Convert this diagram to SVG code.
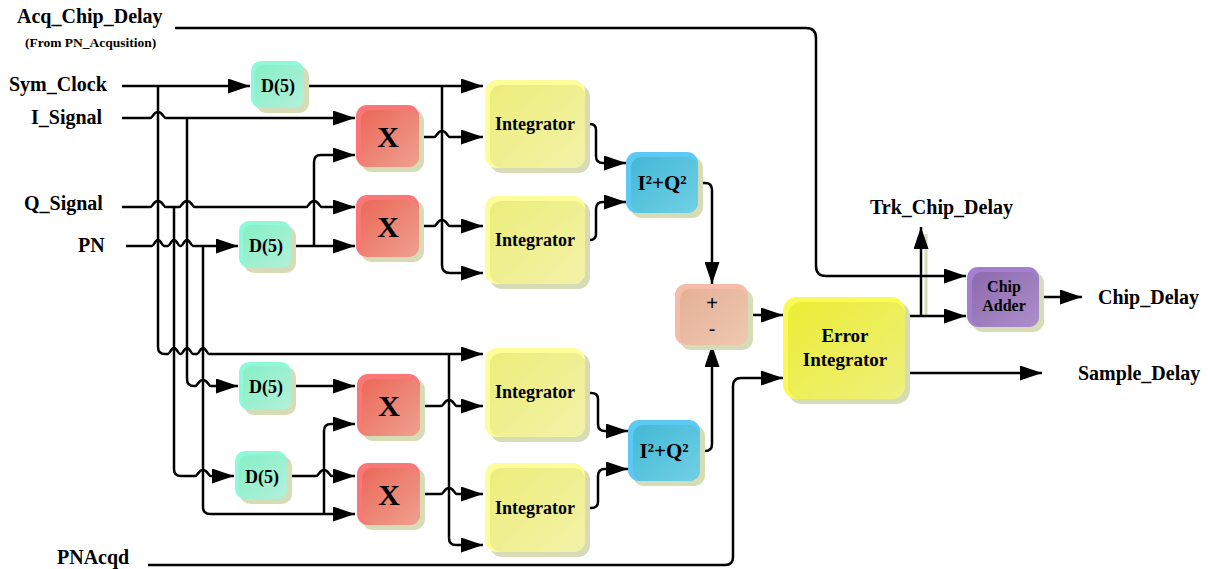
<svg xmlns="http://www.w3.org/2000/svg" width="1208" height="569" viewBox="0 0 1208 569">
<defs>
<style>
.sh{fill:#d5dcb6}
.c{fill:none;stroke:#000;stroke-width:2.5}
.a{marker-end:url(#ah)}
.lbl{font-family:"Liberation Serif","Times New Roman",serif;font-weight:bold;font-size:20px;fill:#000}
.sm{font-size:13.5px}
.nt{font-family:"Liberation Serif","Times New Roman",serif;font-weight:bold;fill:#000;text-anchor:middle}
.pm{font-family:"Liberation Sans",Arial,sans-serif;font-size:20px;fill:#000;text-anchor:middle}
</style>
<marker id="ah" markerWidth="22" markerHeight="15" refX="22" refY="7.5" orient="auto" markerUnits="userSpaceOnUse"><path d="M0,0 L22,7.5 L0,15 Z" fill="#000"/></marker>
<linearGradient id="gX" x1="0" y1="0" x2="1" y2="1"><stop offset="0" stop-color="#ea6858"/><stop offset="1" stop-color="#f0a090"/></linearGradient>
<linearGradient id="gI" x1="0" y1="0" x2="1" y2="1"><stop offset="0" stop-color="#eded7c"/><stop offset="1" stop-color="#f2f2a8"/></linearGradient>
<linearGradient id="gQ" x1="0" y1="0" x2="1" y2="1"><stop offset="0" stop-color="#42b8d6"/><stop offset="1" stop-color="#72d0e4"/></linearGradient>
<linearGradient id="gD" x1="0" y1="0" x2="1" y2="1"><stop offset="0" stop-color="#86efc6"/><stop offset="1" stop-color="#b2f0da"/></linearGradient>
<linearGradient id="gC" x1="0" y1="0" x2="1" y2="1"><stop offset="0" stop-color="#8c6aac"/><stop offset="1" stop-color="#ae8ecc"/></linearGradient>
<linearGradient id="gP" x1="0" y1="0" x2="1" y2="1"><stop offset="0" stop-color="#e4b096"/><stop offset="1" stop-color="#eec8b0"/></linearGradient>
<linearGradient id="gE" x1="0" y1="0" x2="1" y2="1"><stop offset="0" stop-color="#ecec36"/><stop offset="1" stop-color="#eef07c"/></linearGradient>
</defs>
<rect width="1208" height="569" fill="#fff"/>

<g id="labels">
<text class="lbl" x="17" y="23">Acq_Chip_Delay</text>
<text class="lbl sm" x="25" y="47">(From PN_Acqusition)</text>
<text class="lbl" x="9" y="91">Sym_Clock</text>
<text class="lbl" x="31" y="124">I_Signal</text>
<text class="lbl" x="24" y="210">Q_Signal</text>
<text class="lbl" x="78" y="252">PN</text>
<text class="lbl" x="57" y="564">PNAcqd</text>
<text class="lbl" x="870" y="214">Trk_Chip_Delay</text>
<text class="lbl" x="1098" y="304">Chip_Delay</text>
<text class="lbl" x="1078" y="380">Sample_Delay</text>
</g>

<g id="connectors">
<line x1="926" y1="234" x2="926" y2="316" stroke="#d5dcb6" stroke-width="3"/>
<path class="c a" d="M175,28 H806 Q816,28 816,38 V266 Q816,276 826,276 H966"/>
<path class="c a" d="M122,86 H250"/>
<path class="c a" d="M158,86 V347 Q158,354 165,354 H168 c2,0 3,-6 6,-6 c3,0 4,6 6,6 H181 c2,0 3,-6 6,-6 c3,0 4,6 6,6 H197 c2,0 3,-6 6,-6 c3,0 4,6 6,6 H483"/>
<path class="c a" d="M305,86 H483"/>
<path class="c a" d="M442,86 V265 Q442,273 450,273 H483"/>
<path class="c a" d="M122,118 H150 c2.5,0 3.5,-6 8,-6 c4.5,0 5.5,6 8,6 H355"/>
<path class="c a" d="M187,118 V379 Q187,386 194,386 H195 c2.5,0 3.5,-6 8,-6 c4.5,0 5.5,6 8,6 H238"/>
<path class="c a" d="M122,207 H150 c2.5,0 3.5,-6 8,-6 c4.5,0 5.5,6 8,6 H179 c2.5,0 3.5,-6 8,-6 c4.5,0 5.5,6 8,6 H306 c2.5,0 3.5,-6 8,-6 c4.5,0 5.5,6 8,6 H355"/>
<path class="c a" d="M174,207 V469 Q174,476 181,476 H195 c2.5,0 3.5,-6 8,-6 c4.5,0 5.5,6 8,6 H234"/>
<path class="c a" d="M126,246 H152 c2,0 3,-6 6,-6 c3,0 4,6 6,6 H168 c2,0 3,-6 6,-6 c3,0 4,6 6,6 H181 c2,0 3,-6 6,-6 c3,0 4,6 6,6 H238"/>
<path class="c a" d="M203,246 V507 Q203,514 210,514 H355"/>
<path class="c a" d="M291,246 H355"/>
<path class="c a" d="M314,246 V162 Q314,155 321,155 H355"/>
<path class="c a" d="M291,386 H355"/>
<path class="c a" d="M287,476 H316 c2.5,0 3.5,-6 8,-6 c4.5,0 5.5,6 8,6 H355"/>
<path class="c a" d="M324,514 V431 Q324,424 331,424 H355"/>
<path class="c a" d="M420,137 H434 c2.5,0 3.5,-6 8,-6 c4.5,0 5.5,6 8,6 H483"/>
<path class="c a" d="M420,226 H434 c2.5,0 3.5,-6 8,-6 c4.5,0 5.5,6 8,6 H483"/>
<path class="c a" d="M421,406 H441 c2.5,0 3.5,-6 8,-6 c4.5,0 5.5,6 8,6 H483"/>
<path class="c a" d="M421,494 H441 c2.5,0 3.5,-6 8,-6 c4.5,0 5.5,6 8,6 H483"/>
<path class="c a" d="M449,354 V538 Q449,545 456,545 H483"/>
<path class="c a" d="M586,124 H590 Q596,124 596,130 V156 Q596,163 603,163 H626"/>
<path class="c a" d="M586,240 H590 Q596,240 596,234 V209 Q596,202 603,202 H626"/>
<path class="c a" d="M586,393 H591 Q598,393 598,399 V424 Q598,431 605,431 H628"/>
<path class="c a" d="M586,508 H591 Q598,508 598,502 V476 Q598,469 605,469 H628"/>
<path class="c a" d="M699,183 H705 Q712,183 712,190 V284"/>
<path class="c a" d="M701,451 H705 Q712,451 712,444 V345"/>
<path class="c a" d="M749,315 H783"/>
<path class="c a" d="M148,565 H725 Q733,565 733,557 V386 Q733,378 741,378 H783"/>
<path class="c a" d="M905,316 H966"/>
<path class="c a" d="M921,316 V227"/>
<path class="c a" d="M905,373 H1042"/>
<path class="c a" d="M1039,297 H1082"/>
</g>

<g id="d1"><rect class="sh" x="256" y="66" width="53" height="47" rx="10"/><rect x="251" y="61" width="53" height="47" rx="10" fill="#8ef8d8"/><rect x="255" y="65" width="49" height="43" rx="9" fill="url(#gD)"/><text class="nt" x="278" y="92" font-size="18">D(5)</text></g>
<g id="d2"><rect class="sh" x="244" y="226" width="52" height="47" rx="10"/><rect x="239" y="221" width="52" height="47" rx="10" fill="#8ef8d8"/><rect x="243" y="225" width="48" height="43" rx="9" fill="url(#gD)"/><text class="nt" x="266" y="252" font-size="18">D(5)</text></g>
<g id="d3"><rect class="sh" x="244" y="367" width="52" height="48" rx="10"/><rect x="239" y="362" width="52" height="48" rx="10" fill="#8ef8d8"/><rect x="243" y="366" width="48" height="44" rx="9" fill="url(#gD)"/><text class="nt" x="266" y="393" font-size="18">D(5)</text></g>
<g id="d4"><rect class="sh" x="240" y="456" width="52" height="48" rx="10"/><rect x="235" y="451" width="52" height="48" rx="10" fill="#8ef8d8"/><rect x="239" y="455" width="48" height="44" rx="9" fill="url(#gD)"/><text class="nt" x="262" y="483" font-size="18">D(5)</text></g>

<g id="x1"><rect class="sh" x="361" y="110" width="63" height="62" rx="11"/><rect x="356" y="105" width="63" height="62" rx="11" fill="#fb7777"/><rect x="361" y="110" width="58" height="57" rx="10" fill="url(#gX)"/><text class="nt" x="388" y="147" font-size="30">X</text></g>
<g id="x2"><rect class="sh" x="361" y="200" width="63" height="62" rx="11"/><rect x="356" y="195" width="63" height="62" rx="11" fill="#fb7777"/><rect x="361" y="200" width="58" height="57" rx="10" fill="url(#gX)"/><text class="nt" x="388" y="237" font-size="30">X</text></g>
<g id="x3"><rect class="sh" x="362" y="379" width="63" height="62" rx="11"/><rect x="357" y="374" width="63" height="62" rx="11" fill="#fb7777"/><rect x="362" y="379" width="58" height="57" rx="10" fill="url(#gX)"/><text class="nt" x="389" y="416" font-size="30">X</text></g>
<g id="x4"><rect class="sh" x="362" y="468" width="63" height="62" rx="11"/><rect x="357" y="463" width="63" height="62" rx="11" fill="#fb7777"/><rect x="362" y="468" width="58" height="57" rx="10" fill="url(#gX)"/><text class="nt" x="389" y="505" font-size="30">X</text></g>

<g id="int1"><rect class="sh" x="490" y="85" width="100" height="88" rx="12"/><rect x="485" y="80" width="100" height="88" rx="12" fill="#fdfd99"/><rect x="490" y="85" width="95" height="83" rx="11" fill="url(#gI)"/><text class="nt" x="535" y="130" font-size="18">Integrator</text></g>
<g id="int2"><rect class="sh" x="490" y="201" width="100" height="88" rx="12"/><rect x="485" y="196" width="100" height="88" rx="12" fill="#fdfd99"/><rect x="490" y="201" width="95" height="83" rx="11" fill="url(#gI)"/><text class="nt" x="535" y="246" font-size="18">Integrator</text></g>
<g id="int3"><rect class="sh" x="490" y="353" width="100" height="89" rx="12"/><rect x="485" y="348" width="100" height="89" rx="12" fill="#fdfd99"/><rect x="490" y="353" width="95" height="84" rx="11" fill="url(#gI)"/><text class="nt" x="535" y="398" font-size="18">Integrator</text></g>
<g id="int4"><rect class="sh" x="490" y="468" width="100" height="89" rx="12"/><rect x="485" y="463" width="100" height="89" rx="12" fill="#fdfd99"/><rect x="490" y="468" width="95" height="84" rx="11" fill="url(#gI)"/><text class="nt" x="535" y="514" font-size="18">Integrator</text></g>

<g id="sq1"><rect class="sh" x="631" y="157" width="72" height="61" rx="11"/><rect x="626" y="152" width="72" height="61" rx="11" fill="#5cc8f4"/><rect x="631" y="157" width="67" height="56" rx="10" fill="url(#gQ)"/><text class="nt" x="662" y="190" font-size="21">I²+Q²</text></g>
<g id="sq2"><rect class="sh" x="633" y="425" width="72" height="61" rx="11"/><rect x="628" y="420" width="72" height="61" rx="11" fill="#5cc8f4"/><rect x="633" y="425" width="67" height="56" rx="10" fill="url(#gQ)"/><text class="nt" x="664" y="458" font-size="21">I²+Q²</text></g>

<g id="sum"><rect class="sh" x="680" y="289" width="73" height="61" rx="11"/><rect x="675" y="284" width="73" height="61" rx="11" fill="#f6bcaa"/><rect x="680" y="289" width="68" height="56" rx="10" fill="url(#gP)"/><text class="pm" x="712" y="310">+</text><text class="pm" x="712" y="336">-</text></g>

<g id="errint"><rect class="sh" x="788" y="302" width="122" height="102" rx="14"/><rect x="783" y="297" width="122" height="102" rx="14" fill="#fafa55"/><rect x="788" y="302" width="117" height="97" rx="13" fill="url(#gE)"/><text class="nt" x="845" y="342" font-size="19">Error</text><text class="nt" x="845" y="366" font-size="19">Integrator</text></g>

<g id="chipadder"><rect class="sh" x="972" y="272" width="72" height="60" rx="11"/><rect x="967" y="267" width="72" height="60" rx="11" fill="#a27fd0"/><rect x="972" y="272" width="67" height="55" rx="10" fill="url(#gC)"/><text class="nt" x="1004" y="292" font-size="16">Chip</text><text class="nt" x="1004" y="311" font-size="16">Adder</text></g>
</svg>
